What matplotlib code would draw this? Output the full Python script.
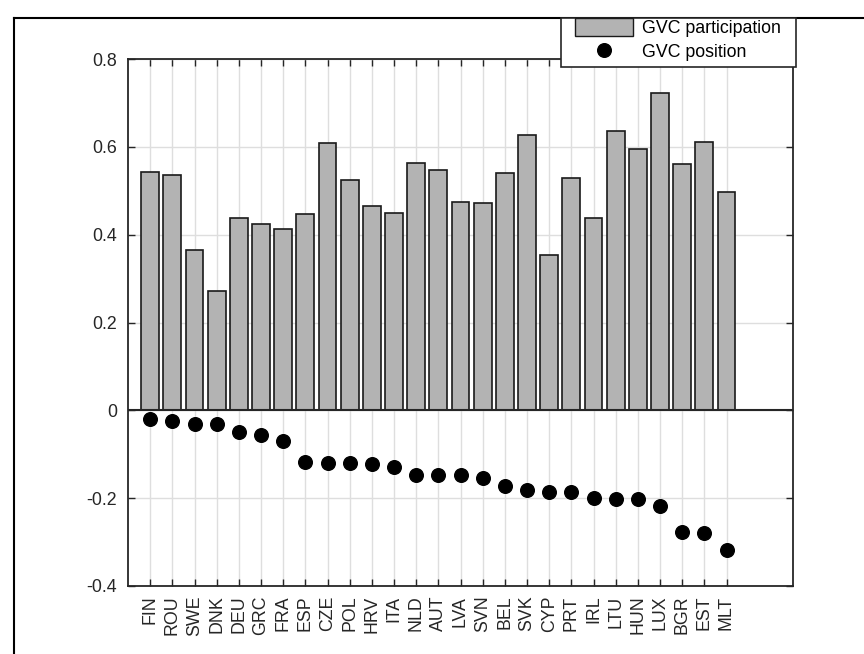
import matplotlib
matplotlib.use("Agg")
import matplotlib.pyplot as plt
from matplotlib.lines import Line2D
from matplotlib.patches import Patch, Rectangle
import numpy as np

plt.rcParams['font.family'] = ['Liberation Sans', 'DejaVu Sans']

countries = ["FIN", "ROU", "SWE", "DNK", "DEU", "GRC", "FRA", "ESP", "CZE", "POL",
             "HRV", "ITA", "NLD", "AUT", "LVA", "SVN", "BEL", "SVK", "CYP", "PRT",
             "IRL", "LTU", "HUN", "LUX", "BGR", "EST", "MLT"]
gvc_participation = [0.542, 0.537, 0.366, 0.272, 0.438, 0.425, 0.414, 0.446, 0.608, 0.525,
                     0.465, 0.449, 0.564, 0.548, 0.474, 0.472, 0.541, 0.628, 0.354, 0.529,
                     0.437, 0.635, 0.596, 0.722, 0.560, 0.611, 0.497]
gvc_position = [-0.019, -0.025, -0.032, -0.032, -0.049, -0.057, -0.070, -0.117, -0.120, -0.120,
                -0.123, -0.130, -0.148, -0.148, -0.148, -0.155, -0.172, -0.182, -0.186, -0.186,
                -0.200, -0.203, -0.203, -0.217, -0.277, -0.280, -0.319]
yticks = [-0.4, -0.2, 0, 0.2, 0.4, 0.6, 0.8]
ytick_labels = ["-0.4", "-0.2", "0", "0.2", "0.4", "0.6", "0.8"]

W, H = 864, 654
FS = 12.8
fig = plt.figure(figsize=(W / 100, H / 100), dpi=100)
ax = fig.add_axes([128 / W, 1 - 586 / H, (793 - 128) / W, (586 - 59) / H])

x = np.arange(1, len(countries) + 1)
ax.bar(x, gvc_participation, width=0.8, color='#b3b3b3', edgecolor='#1a1a1a',
       linewidth=1.2, zorder=2)
ax.axhline(0, color='#262626', linewidth=1.5, zorder=3)
ax.plot(x, gvc_position, 'o', color='black', markersize=9.8, zorder=4)

ax.set_xlim(0, 30)
ax.set_ylim(-0.4, 0.8)
ax.set_xticks(x)
ax.set_xticklabels(countries, rotation=90)
ax.set_yticks(yticks)
ax.set_yticklabels(ytick_labels)
ax.tick_params(axis='both', direction='in', length=5, width=1, color='#262626',
               labelsize=FS, labelcolor='#262626', top=True, right=True)
ax.tick_params(axis='x', pad=7)
ax.tick_params(axis='y', pad=8)
ax.grid(True, color='#dedede', linewidth=1, zorder=0)
ax.set_axisbelow(True)
for s in ax.spines.values():
    s.set_color('#262626')
    s.set_linewidth(1.3)

# figure frame lines (left and top)
fig.add_artist(Line2D([14 / W, 14 / W], [0, 1 - 18 / H], transform=fig.transFigure,
                      color='black', linewidth=1.5))
fig.add_artist(Line2D([14 / W, 1], [1 - 18 / H, 1 - 18 / H], transform=fig.transFigure,
                      color='black', linewidth=1.5))

# legend box drawn manually
box = Rectangle((561 / W, 1 - 67 / H), (796 - 561) / W, (67 - 18) / H,
                transform=fig.transFigure, facecolor='white', edgecolor='#262626',
                linewidth=1.2, zorder=4)
fig.add_artist(box)

handles = [Patch(facecolor='#b3b3b3', edgecolor='#1a1a1a', linewidth=1.0),
           Line2D([], [], marker='o', linestyle='none', color='black', markersize=9.8)]
leg = fig.legend(handles, ["GVC participation", "GVC position"],
                 loc='upper left', bbox_to_anchor=(575 / W, 1 - 18 / H),
                 bbox_transform=fig.transFigure, fontsize=FS, frameon=False,
                 borderaxespad=0, handlelength=3.25, handleheight=1.15,
                 handletextpad=0.5, borderpad=0.0, labelspacing=0.3)
leg.set_zorder(6)

fig.savefig("out.png", dpi=100)
